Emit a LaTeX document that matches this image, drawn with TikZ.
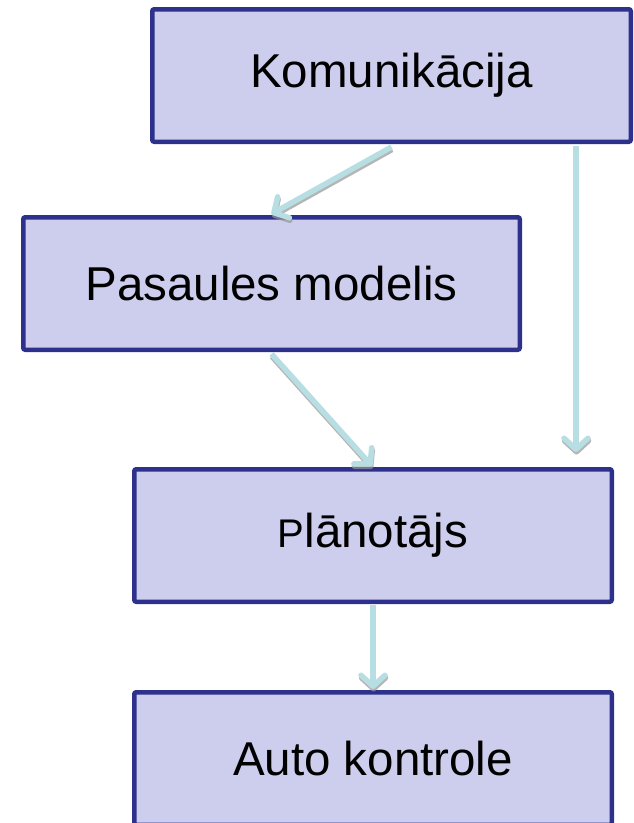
\documentclass[tikz,border=0pt]{standalone}
\usepackage{fontspec}
\setmainfont{Liberation Sans}
\usetikzlibrary{arrows.meta}
\definecolor{boxfill}{RGB}{205,205,237}
\definecolor{boxline}{RGB}{46,49,140}
\definecolor{arrcol}{RGB}{183,222,226}
\definecolor{shadcol}{RGB}{150,150,150}
\begin{document}
\begin{tikzpicture}[x=1pt,y=-1pt,
  blockbox/.style={draw=boxline, fill=boxfill, line width=4.5pt, rounded corners=2pt,
    minimum height=132.5pt, inner sep=0pt,
    font=\fontsize{47.5}{57}\selectfont},
  flowarrow/.style={draw=arrcol, line width=5.5pt,
    -{Straight Barb[length=11pt,width=24pt,line cap=round,line join=round]}},
  flowshadow/.style={draw=shadcol, opacity=0.7, line width=5.5pt, transform canvas={shift={(0.5pt,-2.5pt)}},
    -{Straight Barb[length=11pt,width=24pt,line cap=round,line join=round]}}
]
\useasboundingbox (0,0) rectangle (634,823);
\clip (0,0) rectangle (634,823);
\node[blockbox, minimum width=478.5pt] (k) at (391.5,75.5) {Komunikācija};
\node[blockbox, minimum width=496.5pt] (p) at (271.5,283.5) {Pasaules modelis};
\node[blockbox, minimum width=477.5pt] (pl) at (373,535.5) {{\fontsize{40}{48}\selectfont P}lānotājs};
\node[blockbox, minimum width=477.5pt] (a) at (373,758.5) {Auto kontrole};
% shadows
\draw[flowshadow] ([yshift=-3pt]k.south) -- ([yshift=1pt]p.north);
\draw[flowshadow] ([yshift=-2pt]p.south) -- ([xshift=-1pt,yshift=1pt]pl.north);
\draw[flowshadow] ([xshift=-57pt,yshift=-2pt]k.south east) -- ([xshift=-38pt,yshift=15pt]pl.north east);
\draw[flowshadow] ([yshift=-1pt]pl.south) -- ([yshift=1pt]a.north);
% arrows
\draw[flowarrow] ([yshift=-3pt]k.south) -- ([yshift=1pt]p.north);
\draw[flowarrow] ([yshift=-2pt]p.south) -- ([xshift=-1pt,yshift=1pt]pl.north);
\draw[flowarrow] ([xshift=-57pt,yshift=-2pt]k.south east) -- ([xshift=-38pt,yshift=15pt]pl.north east);
\draw[flowarrow] ([yshift=-1pt]pl.south) -- ([yshift=1pt]a.north);
\end{tikzpicture}
\end{document}
